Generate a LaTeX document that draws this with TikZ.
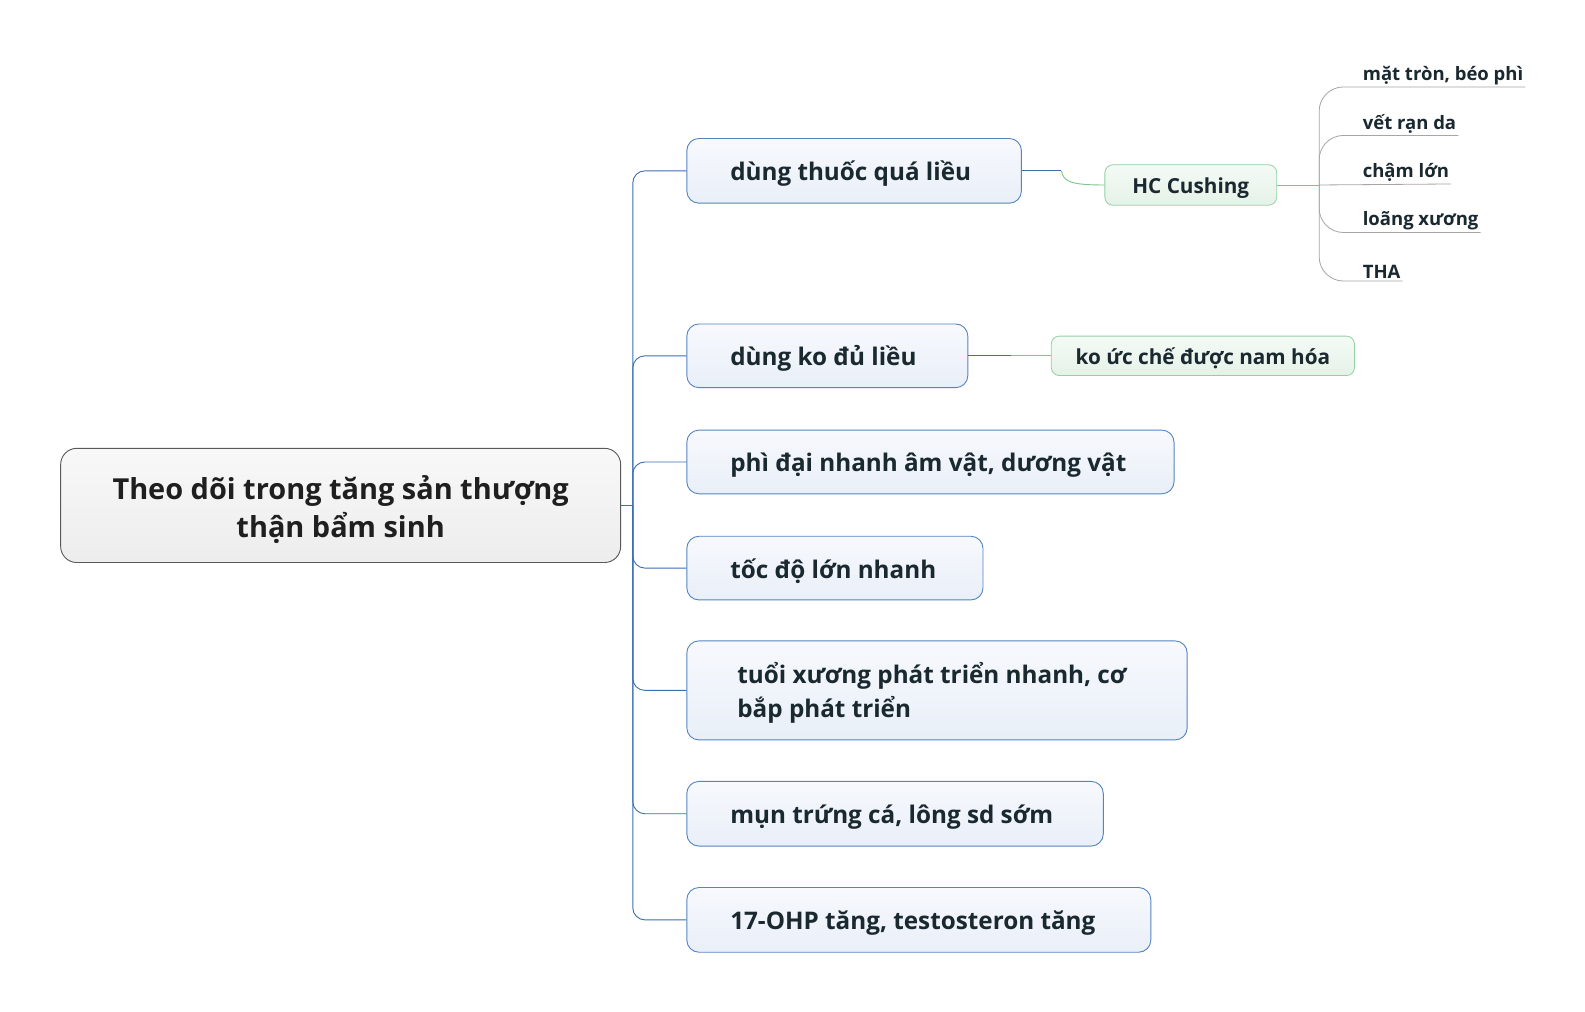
\documentclass[tikz,border=0pt]{standalone}
\usepackage{fontspec}
\setmainfont{Open Sans}[BoldFont={* Bold}]
\definecolor{txtc}{HTML}{1A2830}
\definecolor{bborder}{HTML}{5584C2}
\definecolor{bline}{HTML}{3C6EB4}
\definecolor{gborder}{HTML}{92D1A5}
\definecolor{gline}{HTML}{79C790}
\definecolor{gfillt}{HTML}{F4FAF5}
\definecolor{gfillb}{HTML}{E5F2E8}
\definecolor{bfillt}{HTML}{F7F9FD}
\definecolor{bfillb}{HTML}{E9EFF8}
\definecolor{rfillt}{HTML}{F8F8F8}
\definecolor{rfillb}{HTML}{EDEDED}
\newcommand{\lbox}[2]{\raisebox{-3pt}[\height][\depth]{\makebox[#1][l]{\begin{tabular}{@{}l@{}}#2\end{tabular}}}}
\begin{document}
\begin{tikzpicture}[x=1pt,y=-1pt,
  mainbox/.style={draw=bborder, line width=0.9pt, rounded corners=12pt,
     top color=bfillt, bottom color=bfillb, anchor=west, text=txtc,
     font=\bfseries\fontsize{24}{34}\selectfont, inner ysep=0pt},
  greenbox/.style={draw=gborder, line width=0.8pt, rounded corners=8pt,
     top color=gfillt, bottom color=gfillb, text=txtc, inner sep=0pt,
     font=\bfseries\fontsize{20.5}{24}\selectfont},
  sub/.style={anchor=south west, inner xsep=2pt, inner ysep=2pt, text=txtc,
     font=\bfseries\fontsize{18.3}{22}\selectfont},
  blueline/.style={draw=bline, line width=0.9pt},
  greenline/.style={draw=gline, line width=0.9pt},
  greyline/.style={draw=black!35, line width=0.8pt}
]
\useasboundingbox (0,0) rectangle (1568,1001);
\fill[white] (0,0) rectangle (1568,1001);

% root
\node[draw=black!65, line width=0.9pt, rounded corners=16pt, top color=rfillt, bottom color=rfillb,
  minimum width=554pt, minimum height=113pt, align=center, text=black!88,
  font=\bfseries\fontsize{28.6}{38}\selectfont] (root) at (337,500)
  {\raisebox{-5.5pt}[\height][\depth]{\begin{tabular}{@{}c@{}}Theo dõi trong tăng sản thượng\\thận bẩm sinh\end{tabular}}};

% main nodes
\node[mainbox, minimum width=331pt, minimum height=64pt, inner xsep=43pt] (n1) at (679,169) {\lbox{245pt}{dùng thuốc quá liều}};
\node[mainbox, minimum width=278pt, minimum height=63pt, inner xsep=43pt] (n2) at (679,352) {\lbox{192pt}{dùng ko đủ liều}};
\node[mainbox, minimum width=482pt, minimum height=63pt, inner xsep=43pt] (n3) at (679,457) {\lbox{396pt}{phì đại nhanh âm vật, dương vật}};
\node[mainbox, minimum width=293pt, minimum height=63pt, inner xsep=43pt] (n4) at (679,562) {\lbox{207pt}{tốc độ lớn nhanh}};
\node[mainbox, minimum width=495pt, minimum height=98pt, inner xsep=50pt] (n5) at (679,683) {\lbox{395pt}{tuổi xương phát triển nhanh, cơ\\bắp phát triển}};
\node[mainbox, minimum width=412pt, minimum height=64pt, inner xsep=43pt] (n6) at (679,805) {\lbox{326pt}{mụn trứng cá, lông sd sớm}};
\node[mainbox, minimum width=459pt, minimum height=64pt, inner xsep=43pt] (n7) at (679,910) {\lbox{373pt}{17-OHP tăng, testosteron tăng}};

% bus
\coordinate (bus) at (626,500);
\draw[blueline] (root.east) -- (bus);
\foreach \n in {n1,n2,n3,n4,n5,n6,n7}{
  \draw[blueline, rounded corners=12pt] (bus) |- (\n.west);
}

% green nodes
\node[greenbox, minimum width=170pt, minimum height=40pt] (hc) at (1178,183) {\raisebox{-3pt}[\height][\depth]{HC Cushing}};
\node[greenbox, minimum width=300pt, minimum height=39pt] (ko) at (1190,352) {\raisebox{-2pt}[\height][\depth]{ko ức chế được nam hóa}};

\coordinate (j1) at (1050,169);
\draw[blueline] (n1.east) -- (j1);
\draw[greenline] (j1) .. controls (1052,180) and (1060,183) .. (hc.west);
\coordinate (j2) at (1000,352);
\draw[blueline] (n2.east) -- (j2);
\draw[greenline] (j2) -- (ko.west);

% sub items
\coordinate (hub) at (1305,183);
\draw[greenline] (hc.east) -- (hub);
\node[sub] (s1) at (1346,86) {mặt tròn, béo phì};
\node[sub] (s2) at (1346,134) {vết rạn da};
\node[sub] (s3) at (1346,182) {chậm lớn};
\node[sub] (s4) at (1346,230) {loãng xương};
\node[sub] (s5) at (1346,278) {THA};
\foreach \s in {s1,s2,s4,s5}{
  \draw[greyline, rounded corners=24pt] (hub) |- (\s.south east);
}
\draw[greyline] (hub) -- (s3.south east);
\end{tikzpicture}
\end{document}
